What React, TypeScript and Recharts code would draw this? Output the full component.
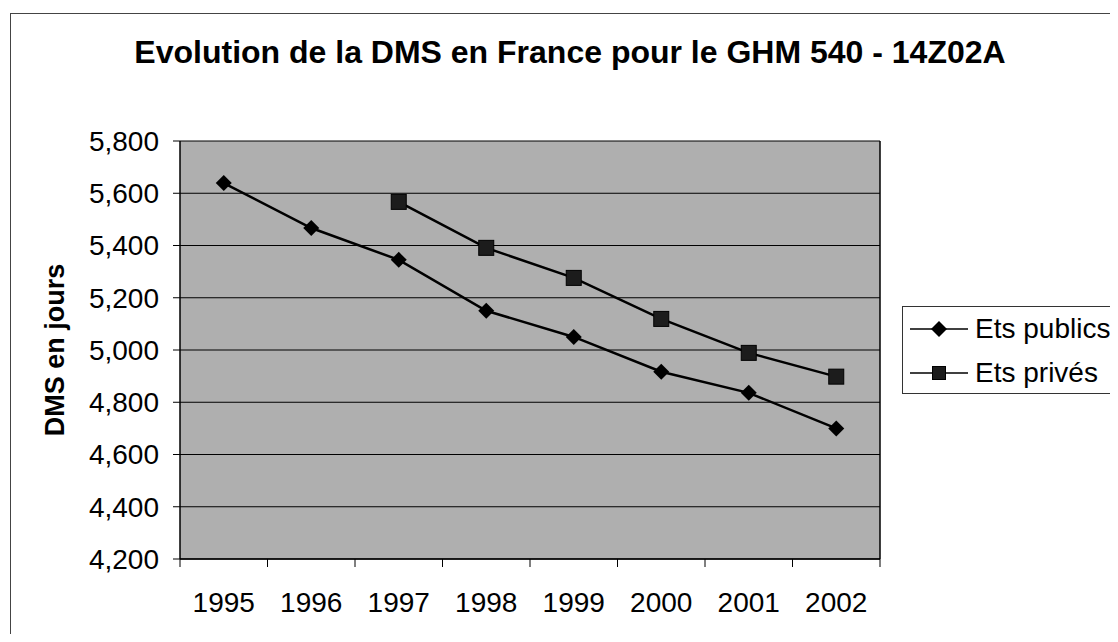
import { LineChart, Line, XAxis, YAxis, CartesianGrid, ReferenceLine } from 'recharts';

const years = ['1995', '1996', '1997', '1998', '1999', '2000', '2001', '2002'];
const publics = [5.639, 5.467, 5.345, 5.15, 5.05, 4.917, 4.836, 4.7];
const prives = [null, null, 5.567, 5.391, 5.276, 5.119, 4.989, 4.898];
const yTicks = [4.2, 4.4, 4.6, 4.8, 5.0, 5.2, 5.4, 5.6, 5.8];
const seriesNames = ['Ets publics', 'Ets privés'];
const title = 'Evolution de la DMS en France pour le GHM 540 - 14Z02A';
const yLabel = 'DMS en jours';

const W = 1118;
const H = 642;
const PLOT_LEFT = 180;
const PLOT_RIGHT = 880;
const BAND = (PLOT_RIGHT - PLOT_LEFT) / years.length;
const FONT = 'Arial, "Liberation Sans", sans-serif';

const data = years.map((y, i) => ({ pos: i + 0.5, year: y, publics: publics[i], prives: prives[i] }));
const xTicks = years.map((_, i) => i).concat(years.length);

// year labels sit in the middle of each band, tick marks on the band edges
function YearTick({ x, y, payload }: any) {
  const label = years[payload.value];
  if (!label) return <g />;
  return (
    <text x={x + BAND / 2} y={y} dy="0.71em" textAnchor="middle" fontSize={28} fontFamily={FONT} fill="#000">
      {label}
    </text>
  );
}

function Diamond({ cx, cy, size = 8 }: any) {
  if (cx == null || cy == null) return <g />;
  return <polygon points={`${cx},${cy - size} ${cx + size},${cy} ${cx},${cy + size} ${cx - size},${cy}`} fill="#000" />;
}

function Square({ cx, cy, size = 7.5 }: any) {
  if (cx == null || cy == null) return <g />;
  return <rect x={cx - size} y={cy - size} width={size * 2} height={size * 2} fill="#1c1c1c" stroke="#000" strokeWidth={1} />;
}

const fmt = (v: number) => v.toFixed(3).replace('.', ',');

export default function App() {
  return (
    <div style={{ position: 'relative', width: W, height: H, margin: -8, background: '#fff', fontFamily: FONT }}>
      <div style={{ position: 'absolute', left: 10, top: 13, width: W - 10, height: H - 13, border: '1px solid #444', boxSizing: 'border-box' }} />
      <div style={{ position: 'absolute', left: 0, width: 1140, top: 33, textAlign: 'center', fontSize: 32, fontWeight: 'bold', lineHeight: '38px', color: '#000', whiteSpace: 'nowrap' }}>
        {title}
      </div>
      <div style={{ position: 'absolute', left: 55, top: 350, transform: 'translate(-50%, -50%) rotate(-90deg)', fontSize: 27, fontWeight: 'bold', whiteSpace: 'nowrap', color: '#000' }}>
        {yLabel}
      </div>
      <div style={{ position: 'absolute', left: 0, top: 0 }}>
        <LineChart width={W} height={H} data={data} margin={{ top: 141, right: W - PLOT_RIGHT, bottom: 33, left: 100 }}>
          <CartesianGrid vertical={false} stroke="#000" strokeOpacity={1} fill="#afafaf" fillOpacity={1} />
          <XAxis
            dataKey="pos"
            type="number"
            domain={[0, years.length]}
            ticks={xTicks}
            interval={0}
            height={50}
            tick={<YearTick />}
            tickSize={8}
            tickMargin={25}
            axisLine={{ stroke: '#000', strokeWidth: 1.5 }}
            tickLine={{ stroke: '#000' }}
          />
          <YAxis
            type="number"
            domain={[4.2, 5.8]}
            ticks={yTicks}
            interval={0}
            width={80}
            tickFormatter={fmt}
            tickSize={7}
            tickMargin={14}
            tick={{ fontSize: 28, fill: '#000', fontFamily: FONT }}
            axisLine={{ stroke: '#000', strokeWidth: 1.5 }}
            tickLine={{ stroke: '#000' }}
          />
          <ReferenceLine x={years.length} stroke="#000" strokeWidth={1.5} />
          <Line dataKey="publics" name={seriesNames[0]} stroke="#000" strokeWidth={2.5} isAnimationActive={false}
            dot={(p: any) => <Diamond key={`d${p.index}`} {...p} />} activeDot={false} />
          <Line dataKey="prives" name={seriesNames[1]} stroke="#000" strokeWidth={2.5} isAnimationActive={false}
            dot={(p: any) => <Square key={`s${p.index}`} {...p} />} activeDot={false} />
        </LineChart>
      </div>
      <div style={{ position: 'absolute', left: 902, top: 306, width: 215, height: 88, border: '1px solid #333', boxSizing: 'border-box', background: '#fff' }}>
        {seriesNames.map((name, i) => (
          <div key={name} style={{ position: 'absolute', left: 0, top: 22 + i * 44 - 20, height: 40, display: 'flex', alignItems: 'center' }}>
            <svg width={72} height={40}>
              <line x1={7} y1={20} x2={65} y2={20} stroke="#000" strokeWidth={1.5} />
              {i === 0 ? <Diamond cx={36} cy={20} /> : <Square cx={36} cy={20} size={6.5} />}
            </svg>
            <span style={{ fontSize: 28, color: '#000', whiteSpace: 'nowrap' }}>{name}</span>
          </div>
        ))}
      </div>
    </div>
  );
}
